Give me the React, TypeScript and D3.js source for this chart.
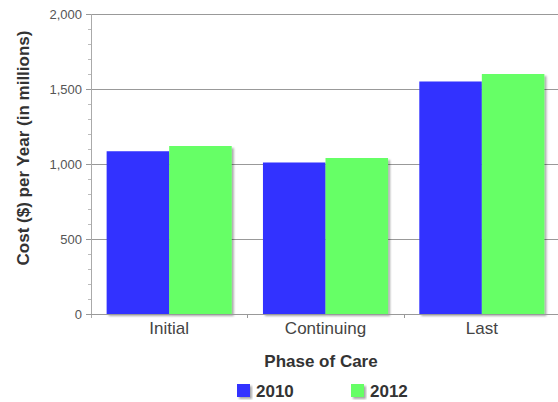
import React, { useEffect, useRef } from 'react';
import * as d3 from 'd3';

const phases = ['Initial', 'Continuing', 'Last'];
const years = ['2010', '2012'];
const values2010 = [1085, 1010, 1550];
const values2012 = [1120, 1040, 1600];
const colors = ['#3333ff', '#66ff66'];
const yTicks = [0, 500, 1000, 1500, 2000];

const font = 'Arial, "Liberation Sans", sans-serif';

const App: React.FC = () => {
  const ref = useRef<SVGSVGElement>(null);

  useEffect(() => {
    const svg = d3.select(ref.current);
    svg.selectAll('*').remove();

    const left = 91, right = 560, top = 14, bottom = 314;
    const series = [values2010, values2012];

    const defs = svg.append('defs');
    const f = defs.append('filter').attr('id', 'shadow').attr('x', '-10%').attr('y', '-10%').attr('width', '130%').attr('height', '130%');
    f.append('feDropShadow').attr('dx', 2).attr('dy', 2).attr('stdDeviation', 1.2).attr('flood-color', '#000').attr('flood-opacity', 0.35);

    const x = d3.scaleBand().domain(phases).range([left, right]).paddingInner(0.2).paddingOuter(0.1);
    const xs = d3.scaleBand().domain(years).range([0, x.bandwidth()]);
    const y = d3.scaleLinear().domain([0, 2000]).range([bottom, top]);

    // minor ticks
    svg.append('g').selectAll('line').data(d3.range(0, 2001, 100).filter(v => v % 500 !== 0)).join('line')
      .attr('x1', left - 3).attr('x2', left).attr('y1', d => Math.round(y(d)) + 0.5).attr('y2', d => Math.round(y(d)) + 0.5)
      .attr('stroke', '#bbb');

    // gridlines + major ticks
    svg.append('g').selectAll('line').data(yTicks.filter(v => v > 0)).join('line')
      .attr('x1', left - 5).attr('x2', 558).attr('y1', d => Math.round(y(d)) + 0.5).attr('y2', d => Math.round(y(d)) + 0.5)
      .attr('stroke', '#999');

    svg.append('g').selectAll('text').data(yTicks).join('text')
      .attr('x', left - 9).attr('y', d => y(d) + 4.5)
      .attr('text-anchor', 'end').attr('font-family', font).attr('font-size', 13).attr('fill', '#555')
      .text(d => d3.format(',')(d));

    // y axis line
    svg.append('line').attr('x1', left + 0.5).attr('x2', left + 0.5).attr('y1', top).attr('y2', bottom + 4).attr('stroke', '#aaa');

    // bars
    phases.forEach((p, i) => {
      svg.append('g').selectAll('rect').data(series.map((s, k) => ({ k, v: s[i] }))).join('rect')
        .attr('x', d => (x(p) as number) + (xs(years[d.k]) as number))
        .attr('y', d => y(d.v))
        .attr('width', xs.bandwidth())
        .attr('height', d => bottom - y(d.v))
        .attr('fill', d => colors[d.k])
        .attr('filter', 'url(#shadow)');
    });

    // x axis
    svg.append('line').attr('x1', left - 5).attr('x2', 558).attr('y1', bottom + 0.5).attr('y2', bottom + 0.5).attr('stroke', '#999');
    const step = x.step();
    svg.append('g').selectAll('line').data(phases.slice(1)).join('line')
      .attr('x1', d => Math.round((x(d) as number) - step * 0.1) + 0.5)
      .attr('x2', d => Math.round((x(d) as number) - step * 0.1) + 0.5)
      .attr('y1', bottom).attr('y2', bottom + 4).attr('stroke', '#999');

    svg.append('g').selectAll('text').data(phases).join('text')
      .attr('x', d => (x(d) as number) + x.bandwidth() / 2).attr('y', 334)
      .attr('text-anchor', 'middle').attr('font-family', font).attr('font-size', 17).attr('fill', '#444')
      .text(d => d);

    // titles
    svg.append('text').attr('x', 321).attr('y', 367).attr('text-anchor', 'middle')
      .attr('font-family', font).attr('font-size', 17).attr('font-weight', 'bold').attr('fill', '#333')
      .text('Phase of Care');
    svg.append('text').attr('transform', 'translate(29,148) rotate(-90)').attr('text-anchor', 'middle')
      .attr('font-family', font).attr('font-size', 17).attr('font-weight', 'bold').attr('fill', '#333')
      .text('Cost ($) per Year (in millions)');

    // legend
    const lg = svg.append('g').selectAll('g').data(years).join('g')
      .attr('transform', (d, i) => `translate(${237 + i * 114},384)`);
    lg.append('rect').attr('width', 13).attr('height', 13).attr('fill', (d, i) => colors[i]).attr('filter', 'url(#shadow)');
    lg.append('text').attr('x', 19).attr('y', 13)
      .attr('font-family', font).attr('font-size', 17).attr('font-weight', 'bold').attr('fill', '#333')
      .text(d => d);
  }, []);

  return <svg ref={ref} width={558} height={402} style={{ position: 'absolute', left: 0, top: 0 }} />;
};

export default App;
